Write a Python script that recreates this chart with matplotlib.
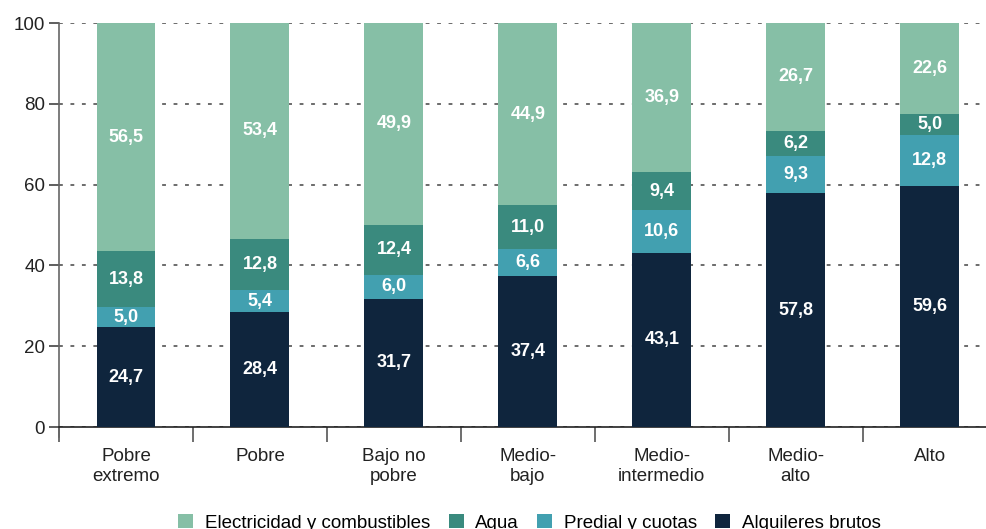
import matplotlib.pyplot as plt
import numpy as np

plt.rcParams['font.family'] = ['Liberation Sans', 'DejaVu Sans']

categorias = ["Pobre\nextremo", "Pobre", "Bajo no\npobre", "Medio-\nbajo",
              "Medio-\nintermedio", "Medio-\nalto", "Alto"]
alquileres = [24.7, 28.4, 31.7, 37.4, 43.1, 57.8, 59.6]
predial = [5.0, 5.4, 6.0, 6.6, 10.6, 9.3, 12.8]
agua = [13.8, 12.8, 12.4, 11.0, 9.4, 6.2, 5.0]
electricidad = [56.5, 53.4, 49.9, 44.9, 36.9, 26.7, 22.6]

series = [
    ("Alquileres brutos", alquileres, "#0f253d"),
    ("Predial y cuotas", predial, "#42a0b0"),
    ("Agua", agua, "#3a8a7e"),
    ("Electricidad y combustibles", electricidad, "#86bfa6"),
]

fig = plt.figure(figsize=(9.86, 5.29), dpi=100)
ax = fig.add_axes([59 / 986, 1 - 427 / 529, 1 - 59 / 986, (427 - 23) / 529])

x = np.arange(len(categorias))
bottom = np.zeros(len(categorias))
handles = {}
for name, vals, color in series:
    vals = np.array(vals)
    b = ax.bar(x, vals, 0.44, bottom=bottom, color=color, zorder=3)
    handles[name] = b
    for xi, v, bt in zip(x, vals, bottom):
        ax.text(xi, bt + v / 2, f"{v:.1f}".replace(".", ","), ha="center", va="center",
                color="white", fontsize=13, fontweight="bold", zorder=4)
    bottom += vals

ax.set_xlim(-0.5, 6.42)
ax.set_ylim(0, 100)
ax.set_yticks([0, 20, 40, 60, 80, 100])
ax.yaxis.grid(True, linestyle=(0, (2.5, 5)), color="#444444", linewidth=1.1, zorder=0)
ax.tick_params(axis="y", labelsize=13.5, length=7, color="#333333", width=1.1, pad=3,
               labelcolor="#222222")

ax.set_xticks(x)
ax.set_xticklabels(categorias, fontsize=13.5, color="#222222", linespacing=1.25)
ax.tick_params(axis="x", length=0, pad=15)
ax.set_xticks(np.arange(-0.5, 6.5, 1), minor=True)
ax.tick_params(axis="x", which="minor", length=11, color="#555555", width=1.2)

for s in ["top", "right"]:
    ax.spines[s].set_visible(False)
ax.spines["left"].set_color("#666666")
ax.spines["left"].set_linewidth(1.2)
ax.spines["left"].set_bounds(-2.5, 100)
ax.spines["bottom"].set_color("#222222")
ax.spines["bottom"].set_linewidth(1.2)

order = ["Electricidad y combustibles", "Agua", "Predial y cuotas", "Alquileres brutos"]
fig.legend([handles[n] for n in order], order, loc="lower center", ncol=4,
           bbox_to_anchor=(0.537, -0.037), frameon=False, fontsize=13.5,
           handlelength=0.8, handleheight=0.8, handletextpad=0.6, columnspacing=1.0)

fig.savefig("out.png", dpi=100)
